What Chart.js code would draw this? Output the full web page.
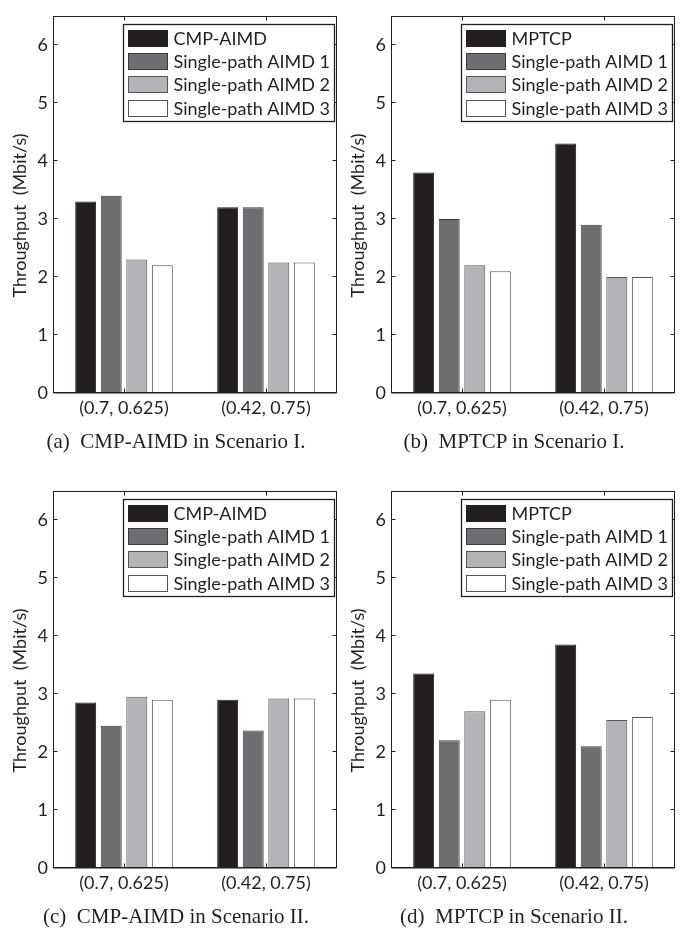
<!DOCTYPE html>
<html><head><meta charset="utf-8">
<script src="https://cdn.jsdelivr.net/npm/chart.js@4.4.1/dist/chart.umd.min.js"></script>
<style>
html,body{margin:0;padding:0;background:#fff;}
body{width:691px;height:933px;position:relative;overflow:hidden;}
.panel{position:absolute;}
.panel canvas{display:block;}
.cap{position:absolute;font-family:"Liberation Serif","Times New Roman",serif;font-size:21px;color:#231f20;white-space:pre;transform:translate(-50%,-50%);line-height:1;}
</style></head><body>
<div class="panel" style="left:0px;top:0px"><canvas id="ca" width="345" height="430"></canvas></div>
<div class="panel" style="left:338px;top:0px"><canvas id="cb" width="345" height="430"></canvas></div>
<div class="panel" style="left:0px;top:475px"><canvas id="cc" width="345" height="430"></canvas></div>
<div class="panel" style="left:338px;top:475px"><canvas id="cd" width="345" height="430"></canvas></div>
<div class="cap" style="left:176px;top:441px">(a)  CMP-AIMD in Scenario I.</div>
<div class="cap" style="left:514px;top:441px">(b)  MPTCP in Scenario I.</div>
<div class="cap" style="left:176px;top:916px">(c)  CMP-AIMD in Scenario II.</div>
<div class="cap" style="left:514px;top:916px">(d)  MPTCP in Scenario II.</div>
<script>
// ---- data ----
const categories = ['(0.7, 0.625)', '(0.42, 0.75)'];
const yTickValues = [0, 1, 2, 3, 4, 5, 6];
const yMax = 6.5;
const yTitle = 'Throughput  (Mbit/s)';
const namesCMP = ['CMP-AIMD', 'Single-path AIMD 1', 'Single-path AIMD 2', 'Single-path AIMD 3'];
const namesMPTCP = ['MPTCP', 'Single-path AIMD 1', 'Single-path AIMD 2', 'Single-path AIMD 3'];
// (a) CMP-AIMD, Scenario I
const aMulti = [3.3, 3.2];
const aSP1 = [3.4, 3.2];
const aSP2 = [2.3, 2.25];
const aSP3 = [2.2, 2.25];
// (b) MPTCP, Scenario I
const bMulti = [3.8, 4.3];
const bSP1 = [3.0, 2.9];
const bSP2 = [2.2, 2.0];
const bSP3 = [2.1, 2.0];
// (c) CMP-AIMD, Scenario II
const cMulti = [2.85, 2.9];
const cSP1 = [2.45, 2.37];
const cSP2 = [2.95, 2.92];
const cSP3 = [2.9, 2.92];
// (d) MPTCP, Scenario II
const dMulti = [3.35, 3.85];
const dSP1 = [2.2, 2.1];
const dSP2 = [2.7, 2.55];
const dSP3 = [2.9, 2.6];

// ---- styles ----
const fillColors = ['#231f20', '#6d6e71', '#b2b4b7', '#ffffff'];
const edgeColors = ['#231f20', '#3a3a3c', '#555557', '#555557'];
const FONT = 'Lato, "Open Sans", sans-serif';
const INK = '#231f20';

const matlabPlugin = {
  id: 'matlabBox',
  afterDraw(chart) {
    const ctx = chart.ctx, a = chart.chartArea, x = chart.scales.x, y = chart.scales.y;
    ctx.save();
    ctx.strokeStyle = INK; ctx.lineWidth = 1;
    const L = Math.round(a.left) + 0.5, R = Math.round(a.right) - 0.5;
    const T = Math.round(a.top) + 0.5, B = Math.round(a.bottom) - 0.5;
    ctx.beginPath();
    yTickValues.forEach(v => {
      const py = Math.round(y.getPixelForValue(v)) - 0.5;
      ctx.moveTo(L, py); ctx.lineTo(L + 4, py);
      ctx.moveTo(R, py); ctx.lineTo(R - 4, py);
    });
    categories.forEach((c, i) => {
      const px = Math.round(x.getPixelForValue(i)) + 0.5;
      ctx.moveTo(px, B); ctx.lineTo(px, B - 4);
      ctx.moveTo(px, T); ctx.lineTo(px, T + 4);
    });
    ctx.stroke();
    ctx.strokeRect(L, T, R - L, B - T);
    ctx.beginPath(); ctx.moveTo(L, B + 0.5); ctx.lineTo(R, B + 0.5); ctx.stroke();

    // legend
    ctx.font = '18px ' + FONT;
    const ds = chart.data.datasets;
    const tw = Math.max(...ds.map(d => ctx.measureText(d.label).width));
    const padL = 5, sw = 39, sh = 16, gap = 6, padR = 4, rowH = 23.4, padT = 5, padB = 6;
    const w = Math.round(padL + sw + gap + tw + padR);
    const h = Math.round(padT + rowH * (ds.length - 1) + sh + padB);
    const lx = Math.round(a.right - 3 - w) + 0.5, ly = Math.round(a.top + 8) + 0.5;
    ctx.fillStyle = '#fff'; ctx.fillRect(lx, ly, w, h);
    ctx.lineWidth = 1.3; ctx.strokeStyle = INK; ctx.strokeRect(lx, ly, w, h);
    ctx.lineWidth = 1;
    ds.forEach((d, i) => {
      const sy = Math.round(ly + padT + i * rowH) + 0.5;
      const sx = lx + padL;
      ctx.fillStyle = d.backgroundColor; ctx.fillRect(sx, sy, sw, sh);
      ctx.strokeStyle = d.borderColor; ctx.strokeRect(sx, sy, sw, sh);
      ctx.fillStyle = INK; ctx.textBaseline = 'middle'; ctx.textAlign = 'left';
      ctx.fillText(d.label, sx + sw + gap, sy + sh / 2 + 1);
    });

    // y title
    ctx.translate(a.left - 33, (a.top + a.bottom) / 2 + 11);
    ctx.rotate(-Math.PI / 2);
    ctx.fillStyle = INK; ctx.textAlign = 'center'; ctx.textBaseline = 'middle';
    ctx.font = '18px ' + FONT;
    ctx.fillText(yTitle, 0, 0);
    ctx.restore();
  }
};

function makeChart(id, names, series) {
  return new Chart(document.getElementById(id), {
    type: 'bar',
    data: {
      labels: categories,
      datasets: series.map((d, i) => ({
        label: names[i], data: d,
        backgroundColor: fillColors[i], borderColor: edgeColors[i], borderWidth: 1,
        categoryPercentage: 0.72, barPercentage: 0.82
      }))
    },
    options: {
      responsive: false, animation: false, devicePixelRatio: 1,
      layout: { padding: { left: 0, top: 5, right: 8, bottom: 0 } },
      plugins: { legend: { display: false }, tooltip: { enabled: false }, title: { display: false } },
      scales: {
        x: {
          grid: { display: false, drawTicks: false }, border: { display: false },
          ticks: { padding: 4, color: INK, font: { family: FONT, size: 18 }, maxRotation: 0, autoSkip: false },
          afterFit(s) { s.height = 37; }
        },
        y: {
          min: 0, max: yMax,
          afterBuildTicks(s) { s.ticks = yTickValues.map(v => ({ value: v })); },
          grid: { display: false, drawTicks: false }, border: { display: false },
          ticks: { padding: 5, color: INK, font: { family: FONT, size: 18 } },
          afterFit(s) { s.width = 53; }
        }
      }
    },
    plugins: [matlabPlugin]
  });
}

makeChart('ca', namesCMP, [aMulti, aSP1, aSP2, aSP3]);
makeChart('cb', namesMPTCP, [bMulti, bSP1, bSP2, bSP3]);
makeChart('cc', namesCMP, [cMulti, cSP1, cSP2, cSP3]);
makeChart('cd', namesMPTCP, [dMulti, dSP1, dSP2, dSP3]);
</script>
</body></html>
